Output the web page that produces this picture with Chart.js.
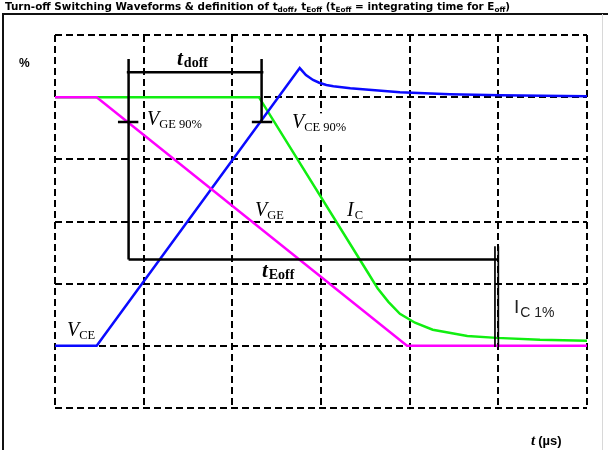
<!DOCTYPE html>
<html><head><meta charset="utf-8">
<script src="https://cdn.jsdelivr.net/npm/chart.js@4.4.0/dist/chart.umd.min.js"></script>
<style>html,body{margin:0;padding:0;background:#fff}#wrap{position:relative;width:608px;height:450px}</style>
</head><body><div id="wrap"><canvas id="c" width="608" height="450"></canvas></div>
<script>
// grid ticks (time in grid divisions, amplitude in %)
const xTicks = [0, 1, 2, 3, 4, 5, 6];
const yTicks = [-25, 0, 25, 50, 75, 100, 125];

// V_CE (blue)
const vceX = [0, 0.47, 2.76, 2.83, 2.91, 2.98, 3.06, 3.14, 3.33, 3.61, 3.89, 4.45, 5.02, 6.0];
const vceY = [0, 0, 111.7, 108.9, 106.9, 105.8, 104.9, 104.4, 103.6, 102.8, 102.0, 101.2, 100.8, 100.4];
// V_GE (magenta)
const vgeX = [0, 0.47, 3.97, 6.0];
const vgeY = [100, 100, 0, 0];
// I_C (green)
const icX = [0, 2.30, 3.53, 3.64, 3.76, 3.89, 4.06, 4.26, 4.65, 4.98, 5.47, 6.0];
const icY = [100, 100, 29.4, 23.0, 17.7, 12.9, 9.3, 6.5, 4.0, 3.2, 2.4, 2.0];

// marker segments [x1, y1, x2, y2]
const tdoffBar = [0.81, 110, 2.35, 110];
const tdoffStart = [0.83, 115.3, 0.83, 34.7];
const tdoffEnd = [2.33, 115.3, 2.33, 90];
const vge90Tick = [0.71, 90, 0.94, 90];
const vce90Tick = [2.22, 90, 2.45, 90];
const teoffBar = [0.83, 34.7, 5.0, 34.7];
const ic1End = [4.962, 40, 4.962, -0.5];
const ic1End2 = [5.0, 40, 5.0, -0.5];

function pts(xs, ys) { return xs.map((x, i) => ({x: x, y: ys[i]})); }
function segs(list) {
  const out = [];
  list.forEach((s, i) => {
    if (i > 0) out.push({x: s[0], y: null});
    out.push({x: s[0], y: s[1]});
    out.push({x: s[2], y: s[3]});
  });
  return out;
}

const serif = '"Liberation Serif", "DejaVu Serif", serif';
const sans = '"Liberation Sans", Arial, sans-serif';
const titleFont = '"DejaVu Sans", Verdana, sans-serif';

function rich(ctx, x, y, parts) {
  parts.forEach(p => {
    ctx.font = p.f;
    ctx.fillText(p.t, x, y + (p.dy || 0));
    x += ctx.measureText(p.t).width + (p.gap || 0);
  });
  return x;
}

const decor = {
  id: 'decor',
  beforeDatasetsDraw(chart) {
    // white label background behind V_CE 90% (covers the grid line there)
    const ctx = chart.ctx;
    const X = v => chart.scales.x.getPixelForValue(v), Y = v => chart.scales.y.getPixelForValue(v);
    ctx.save();
    ctx.fillStyle = '#fff';
    const x0 = X(2.65), y0 = Y(93.5);
    ctx.fillRect(x0, y0, X(3.25) - x0, Y(82) - y0);
    ctx.restore();
  },
  afterDraw(chart) {
    const ctx = chart.ctx;
    const xs = chart.scales.x, ys = chart.scales.y;
    const X = v => xs.getPixelForValue(v), Y = v => ys.getPixelForValue(v);
    ctx.save();
    // frame
    ctx.strokeStyle = '#111';
    ctx.lineWidth = 2;
    ctx.beginPath();
    ctx.moveTo(3, 450); ctx.lineTo(3, 14); ctx.lineTo(608, 14);
    ctx.stroke();
    ctx.strokeStyle = '#d8d8d8';
    ctx.lineWidth = 1;
    ctx.beginPath(); ctx.moveTo(602.5, 14); ctx.lineTo(602.5, 450); ctx.stroke();

    ctx.fillStyle = '#000';
    ctx.textBaseline = 'alphabetic';
    ctx.textAlign = 'left';
    // title
    const tb = 'bold 10.4px ' + titleFont, ts = 'bold 7.3px ' + titleFont;
    rich(ctx, 5, 10, [
      {t: 'Turn-off Switching Waveforms & definition of t', f: tb},
      {t: 'doff', f: ts, dy: 2},
      {t: ', t', f: tb},
      {t: 'Eoff', f: ts, dy: 2},
      {t: ' (t', f: tb},
      {t: 'Eoff', f: ts, dy: 2},
      {t: ' = integrating time for E', f: tb},
      {t: 'off', f: ts, dy: 2},
      {t: ')', f: tb}
    ]);
    // axis labels
    ctx.font = 'bold 12px ' + sans;
    ctx.fillText('%', 19, 67);
    rich(ctx, 531, 445, [
      {t: 't', f: 'italic bold 15px ' + serif, gap: 3},
      {t: '(µs)', f: 'bold 13px ' + sans}
    ]);
    // curve labels
    const V = 'italic 20px ' + serif, S = '12.5px ' + serif;
    rich(ctx, X(1.376), Y(112.9), [
      {t: 't', f: 'italic bold 21px ' + serif, gap: 1},
      {t: 'doff', f: 'bold 14px ' + serif, dy: 2}
    ]);
    rich(ctx, X(2.334), Y(27.8), [
      {t: 't', f: 'italic bold 21px ' + serif, gap: 1},
      {t: 'Eoff', f: 'bold 14px ' + serif, dy: 2}
    ]);
    rich(ctx, X(1.038), Y(88.7), [{t: 'V', f: V}, {t: 'GE 90%', f: S, dy: 3}]);
    rich(ctx, X(2.673), Y(87.5), [{t: 'V', f: V}, {t: 'CE 90%', f: S, dy: 3}]);
    rich(ctx, X(2.256), Y(52.4), [{t: 'V', f: V}, {t: 'GE', f: S, dy: 3}]);
    rich(ctx, X(3.293), Y(52.4), [{t: 'I', f: V, gap: 1}, {t: 'C', f: S, dy: 3}]);
    rich(ctx, X(0.135), Y(4.0), [{t: 'V', f: V}, {t: 'CE', f: S, dy: 3}]);
    ctx.fillStyle = '#222';
    rich(ctx, X(5.176), Y(13.3), [{t: 'I', f: '19px ' + sans, gap: 1}, {t: 'C 1%', f: '14px ' + sans, dy: 4}]);
    ctx.restore();
  }
};

const lineDs = (label, data, color, w) => ({
  label, data, borderColor: color, borderWidth: w, pointRadius: 0,
  tension: 0, fill: false, spanGaps: false, borderCapStyle: 'butt'
});

new Chart(document.getElementById('c'), {
  type: 'line',
  data: {
    datasets: [
      lineDs('markers', segs([tdoffBar, tdoffStart, tdoffEnd, vge90Tick, vce90Tick, teoffBar]), '#000', 2.5),
      lineDs('IC1% end', segs([ic1End, ic1End2]), '#000', 1.7),
      lineDs('V_GE', pts(vgeX, vgeY), '#ff00ff', 2.5),
      lineDs('V_CE', pts(vceX, vceY), '#0a0aff', 2.5),
      lineDs('I_C', pts(icX, icY), '#11ee11', 2.5)
    ]
  },
  options: {
    responsive: false, animation: false, events: [],
    layout: {padding: {left: 55, right: 21, top: 35, bottom: 42}},
    plugins: {legend: {display: false}, tooltip: {enabled: false}, title: {display: false}},
    scales: {
      x: {
        type: 'linear', min: xTicks[0], max: xTicks[xTicks.length - 1],
        afterBuildTicks: s => { s.ticks = xTicks.map(v => ({value: v})); },
        ticks: {display: false},
        grid: {color: '#000', lineWidth: 2, drawTicks: false, tickLength: 0},
        border: {display: false, dash: [7, 4]}
      },
      y: {
        type: 'linear', min: yTicks[0], max: yTicks[yTicks.length - 1],
        afterBuildTicks: s => { s.ticks = yTicks.map(v => ({value: v})); },
        ticks: {display: false},
        grid: {color: '#000', lineWidth: 2, drawTicks: false, tickLength: 0},
        border: {display: false, dash: [7, 4]}
      }
    }
  },
  plugins: [decor]
});
</script></body></html>
